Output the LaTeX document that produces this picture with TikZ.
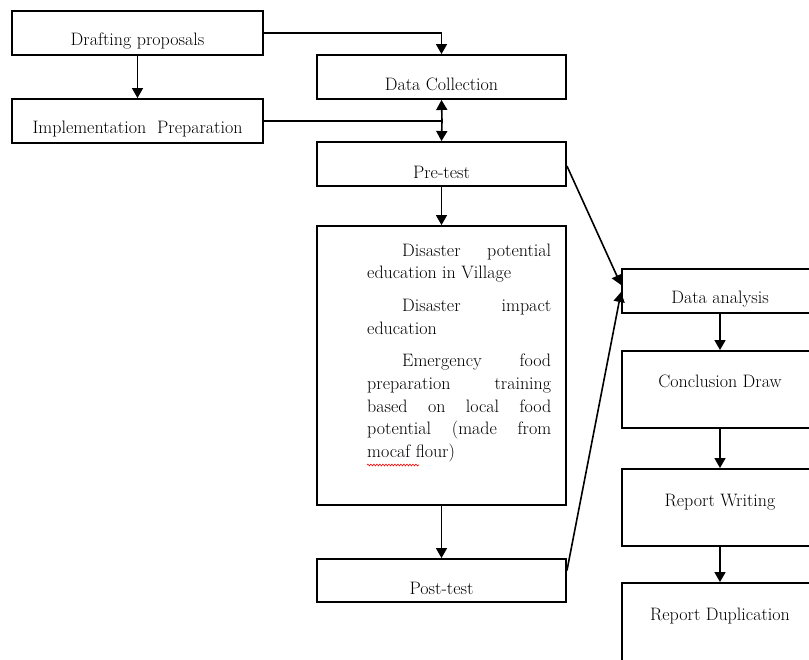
\documentclass[tikz,border=0pt]{standalone}
\usetikzlibrary{arrows.meta,decorations.pathmorphing,calc}
\begin{document}
\begin{tikzpicture}[x=1pt,y=-1pt,
  box/.style={draw,line width=1.9pt,rectangle,inner sep=0pt,minimum width=#1},
  box/.default=249pt,
  lbl/.style={anchor=base,inner sep=0pt,font=\fontsize{18}{22}\selectfont},
  conn/.style={line width=1.6pt,-{Triangle[width=11pt,length=10pt]}},
  plain/.style={line width=1.6pt}]
\useasboundingbox (0,0) rectangle (809,659);
\clip (0,0) rectangle (809,659);
% left column
\node[box=251pt,minimum height=44pt] (dp) at (137.5,33) {};
\node[lbl] (dpt) at (137.5,45) {Drafting proposals};
\node[box=251pt,minimum height=44pt] (ip) at (137.5,121) {};
\node[lbl] (ipt) at (137.5,133) {Implementation\ \ Preparation};
% middle column
\node[box,minimum height=44pt] (dc) at (441.5,77) {};
\node[lbl] (dct) at (441.5,90) {Data Collection};
\node[box,minimum height=44pt] (pre) at (441.5,164) {};
\node[lbl] (pret) at (441.5,178) {Pre-test};
\node[box,minimum height=279pt] (big) at (441.5,365.5) {};
\node[anchor=base west,inner sep=0pt,font=\fontsize{18}{22.7}\selectfont] (bigt) at (367,256)
 {\parbox[t]{184pt}{\raggedright
  \hspace*{35pt}Disaster\hfill potential\\
  education in Village\\[10pt]
  \hspace*{35pt}Disaster\hfill impact\\
  education\\[10pt]
  \hspace*{35pt}Emergency\hfill food\\
  preparation\hfill training\\
  based\hfill on\hfill local\hfill food\\
  potential\hfill (made\hfill from\\
  mocaf flour)}};
\node[box,minimum height=43pt] (post) at (441.5,580.5) {};
\node[lbl] (postt) at (441.5,594) {Post-test};
% right column
\node[box=196pt,minimum height=44pt] (da) at (720,291) {};
\node[lbl] (dat) at (720,303) {Data analysis};
\node[box=196pt,minimum height=77pt] (cd) at (720,389.5) {};
\node[lbl] (cdt) at (720,387) {Conclusion Draw};
\node[box=196pt,minimum height=77pt] (rw) at (720,507.5) {};
\node[lbl] (rwt) at (720,506) {Report Writing};
\node[box=196pt,minimum height=79pt] (rd) at (720,622.5) {};
\node[lbl] (rdt) at (720,620) {Report Duplication};
% spell-check squiggle
\coordinate (sqa) at (367,465);
\coordinate (sqb) at (419,465);
\draw[red,line width=0.6pt,decorate,decoration={snake,amplitude=0.9pt,segment length=3pt}] (sqa) -- (sqb);
% connectors
\coordinate (j) at (442,121);
\draw[conn] (dp.south) -- (ip.north);
\draw[conn] (dp.east) -| (dc.north);
\draw[plain] (ip.east) -- (j);
\draw[conn] (j) -- (dc.south);
\draw[conn] (j) -- (pre.north);
\draw[conn] (pre.south) -- (big.north);
\draw[conn] (big.south) -- (post.north);
\draw[conn] ([yshift=-2pt]pre.east) -- ([yshift=6pt]da.west);
\draw[conn] ([yshift=10pt]post.east) -- ([yshift=-1pt]da.west);
\draw[conn] (da.south) -- (cd.north);
\draw[conn] (cd.south) -- (rw.north);
\draw[conn] (rw.south) -- (rd.north);
\end{tikzpicture}
\end{document}
